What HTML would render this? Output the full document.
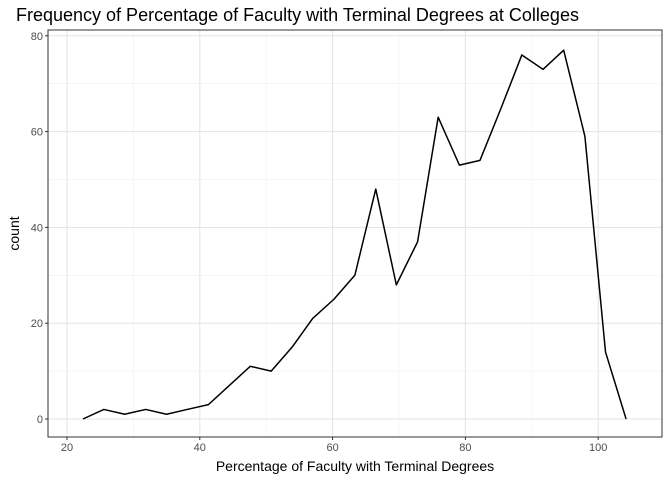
<!DOCTYPE html>
<html><head><meta charset="utf-8"><style>
body{margin:0;background:#fff;font-family:"Liberation Sans",sans-serif}
</style></head><body>
<svg id="chart" width="672" height="480" xmlns="http://www.w3.org/2000/svg"></svg>
<script>
const xValues=[22.4,25.55,28.7,31.85,35.0,38.1,41.3,44.45,47.6,50.75,53.9,57.0,60.2,63.35,66.5,69.6,72.8,75.9,79.1,82.2,85.4,88.5,91.7,94.8,98.0,101.1,104.2];
const counts=[0,2,1,2,1,2,3,7,11,10,15,21,25,30,48,28,37,63,53,54,65,76,73,77,59,14,0];
const xTicks=[20,40,60,80,100];
const yTicks=[0,20,40,60,80];
const svg=document.getElementById('chart');
const NS='http://www.w3.org/2000/svg';
const L=48,R=662,T=30,B=437;
const sx=v=>67+(v-20)*6.64;
const sy=v=>419-v*4.79;
function mk(tag,attrs,parent){const e=document.createElementNS(NS,tag);for(const k in attrs)e.setAttribute(k,attrs[k]);(parent||svg).appendChild(e);return e;}
let bg=mk('rect',{x:L,y:T,width:R-L,height:B-T,fill:'#fff'});


// minor grid
for(let i=0;i<xTicks.length+1;i++){const v=10+i*20;const x=sx(v);if(x>L&&x<R){const g=mk('line',{x1:x,x2:x,y1:T,y2:B,stroke:'#f0f0f0','stroke-width':0.6});}}
for(let i=0;i<yTicks.length;i++){const v=10+i*20;const y=sy(v);if(y>T&&y<B){const g=mk('line',{x1:L,x2:R,y1:y,y2:y,stroke:'#f0f0f0','stroke-width':0.6});}}
xTicks.forEach(v=>{const x=sx(v);
 const g=mk('line',{x1:x,x2:x,y1:T,y2:B,stroke:'#e3e3e3','stroke-width':1});
 
 const t=mk('line',{x1:x,x2:x,y1:B,y2:B+3,stroke:'#333'});
 
 const l=mk('text',{x:x,y:B+14,'text-anchor':'middle','font-size':11,fill:'#4d4d4d'});l.textContent=v;
 });
yTicks.forEach(v=>{const y=sy(v);
 const g=mk('line',{x1:L,x2:R,y1:y,y2:y,stroke:'#e3e3e3','stroke-width':1});
 
 const t=mk('line',{x1:L-3,x2:L,y1:y,y2:y,stroke:'#333'});
 
 const l=mk('text',{x:L-5,y:y+4,'text-anchor':'end','font-size':11,fill:'#4d4d4d'});l.textContent=v;
 });
const pts=xValues.map((v,i)=>sx(v)+','+sy(counts[i])).join(' ');
const line=mk('polyline',{points:pts,fill:'none',stroke:'#000','stroke-width':1.5,'stroke-linejoin':'round'});

const border=mk('rect',{x:L,y:T,width:R-L,height:B-T,fill:'none',stroke:'#333','stroke-width':1});

const title=mk('text',{x:16,y:21,'font-size':18,fill:'#000'});title.textContent='Frequency of Percentage of Faculty with Terminal Degrees at Colleges';

const xt=mk('text',{x:(L+R)/2,y:471,'text-anchor':'middle','font-size':14,fill:'#000'});xt.textContent='Percentage of Faculty with Terminal Degrees';

const yt=mk('text',{x:0,y:0,'text-anchor':'middle','font-size':14,fill:'#000',transform:'translate(19,'+((T+B)/2)+') rotate(-90)'});yt.textContent='count';

</script>
</body></html>
